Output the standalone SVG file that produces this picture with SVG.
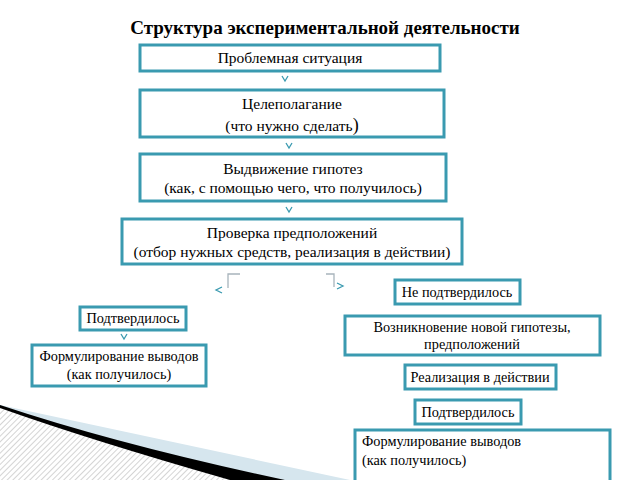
<svg xmlns="http://www.w3.org/2000/svg" width="640" height="480" viewBox="0 0 640 480">
<defs>
<pattern id="h" width="4" height="4" patternUnits="userSpaceOnUse" patternTransform="rotate(45)"><rect width="4" height="4" fill="#fff"/><line x1="0" y1="0" x2="0" y2="4" stroke="#aaa" stroke-width="1"/></pattern>
</defs>
<style>
.b{fill:#fff;stroke:#3a9ab0;stroke-width:3}
text{font-family:"Liberation Serif","Times New Roman",serif;font-size:15.5px;fill:#000;text-anchor:middle}
.s{font-size:14.3px}
.c{fill:none;stroke:#3a9ab0;stroke-width:1.3}
.g{fill:none;stroke:#a8b4bc;stroke-width:1.3}
</style>
<rect width="640" height="480" fill="#fff"/>
<g id="decor">
<path d="M0,405 L350,480 L0,480Z" fill="#d6e6ee"/>
<path d="M0,405 Q120,445 285,480 L0,480Z" fill="#000"/>
<path d="M0,408 Q90,440 230,480 L0,480Z" fill="url(#h)"/>
</g>
<text x="325" y="34" style="font-size:19px;font-weight:bold">Структура экспериментальной деятельности</text>
<g id="n1"><rect class="b" x="140" y="45" width="300" height="26"/><text x="290" y="63">Проблемная ситуация</text></g>
<g id="n2"><rect class="b" x="140" y="90" width="304" height="47"/><text x="292" y="109">Целеполагание</text><text x="292" y="131">(что нужно сделать<tspan style="font-size:18px">)</tspan></text></g>
<g id="n3"><rect class="b" x="140" y="154" width="306" height="47"/><text x="293" y="174">Выдвижение гипотез</text><text x="293" y="193">(как, с помощью чего, что получилось)</text></g>
<g id="n4"><rect class="b" x="122" y="219" width="340" height="45"/><text x="292" y="238">Проверка предположений</text><text x="292" y="257">(отбор нужных средств, реализация в действии)</text></g>
<g id="n5"><rect class="b" x="80" y="307" width="106" height="23"/><text class="s" x="133" y="323">Подтвердилось</text></g>
<g id="n6"><rect class="b" x="32" y="345" width="174" height="41"/><text class="s" x="119" y="361">Формулирование выводов</text><text class="s" x="119" y="379">(как получилось)</text></g>
<g id="n7"><rect class="b" x="395" y="280" width="125" height="24"/><text class="s" x="457" y="297">Не подтвердилось</text></g>
<g id="n8"><rect class="b" x="345" y="316" width="255" height="39"/><text class="s" x="472" y="332">Возникновение новой гипотезы,</text><text class="s" x="472" y="349">предположений</text></g>
<g id="n9"><rect class="b" x="405" y="365" width="151" height="24"/><text class="s" x="480" y="382">Реализация в действии</text></g>
<g id="n10"><rect class="b" x="415" y="400" width="106" height="24"/><text class="s" x="468" y="417">Подтвердилось</text></g>
<g id="n11"><rect class="b" x="355" y="430" width="255" height="55"/><text class="s" x="362" y="446" style="text-anchor:start">Формулирование выводов</text><text class="s" x="362" y="465" style="text-anchor:start">(как получилось)</text></g>
<g id="connectors">
<path class="c" d="M282,76 L285,81 L288,76"/>
<path class="c" d="M286,143 L289,148 L292,143"/>
<path class="c" d="M286,207 L289,212 L292,207"/>
<path class="c" d="M121,334 L124,339 L127,334"/>
<path class="g" d="M240,274 H228 V288"/>
<path class="c" d="M222,287 L216,290 L222,293"/>
<path class="g" d="M326,274 H334 V287"/>
<path class="c" d="M337,283 L343,286 L337,289"/>
</g>
</svg>
